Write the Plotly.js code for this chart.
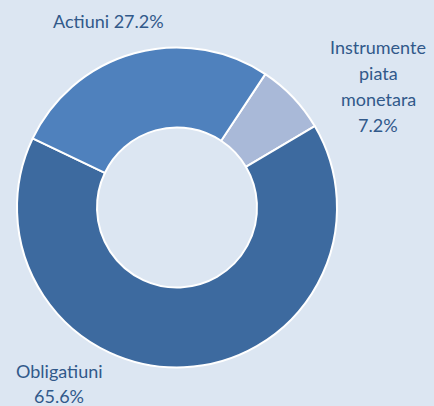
<!DOCTYPE html>
<html>
<head>
<meta charset="utf-8">
<script src="https://cdn.plot.ly/plotly-3.0.1.min.js"></script>
<style>html,body{margin:0;padding:0;background:#DCE6F2;}</style>
</head>
<body>
<div id="chart" style="width:434px;height:406px;"></div>
<script>
// Data
var categories = ["Instrumente piata monetara", "Obligatiuni", "Actiuni"];
var labelLines = [["Instrumente", "piata", "monetara"], ["Obligatiuni"], ["Actiuni"]];
var values = [7.2, 65.6, 27.2];
var colors = ["#A9B9D8", "#3D6A9F", "#4F81BD"];

var W = 434, H = 406;
var cx = 177, cy = 207.5, R = 160;

var trace = {
  type: "pie",
  labels: categories,
  values: values,
  sort: false,
  direction: "clockwise",
  rotation: 33.5,
  hole: 0.5,
  marker: {colors: colors, line: {color: "#FFFFFF", width: 2}},
  textinfo: "none",
  hoverinfo: "none",
  showlegend: false,
  domain: {
    x: [(cx - R) / W, (cx + R) / W],
    y: [(H - cy - R) / H, (H - cy + R) / H]
  }
};

// label block positions in pixels: centre x, first line centre y, and whether the value joins the last line
var labelPos = [[378, 47, false], [59, 371, false], [108, 21, true]];
var lineGap = 25;
var annotations = [];
categories.forEach(function (c, i) {
  var lines = labelLines[i].slice();
  var pct = values[i].toFixed(1) + "%";
  if (labelPos[i][2]) lines[lines.length - 1] += " " + pct; else lines.push(pct);
  lines.forEach(function (t, k) {
    annotations.push({
      text: t,
      x: labelPos[i][0] / W,
      y: 1 - (labelPos[i][1] + k * (i === 0 ? 26 : lineGap)) / H,
      xref: "paper", yref: "paper",
      xanchor: "center", yanchor: "middle",
      showarrow: false,
      font: {family: "Lato, 'Open Sans', sans-serif", size: 18, color: "#31598A"}
    });
  });
});

var layout = {
  width: W, height: H,
  margin: {l: 0, r: 0, t: 0, b: 0},
  paper_bgcolor: "#DCE6F2",
  plot_bgcolor: "#DCE6F2",
  annotations: annotations
};

Plotly.newPlot("chart", [trace], layout, {displayModeBar: false, staticPlot: true});
</script>
</body>
</html>
